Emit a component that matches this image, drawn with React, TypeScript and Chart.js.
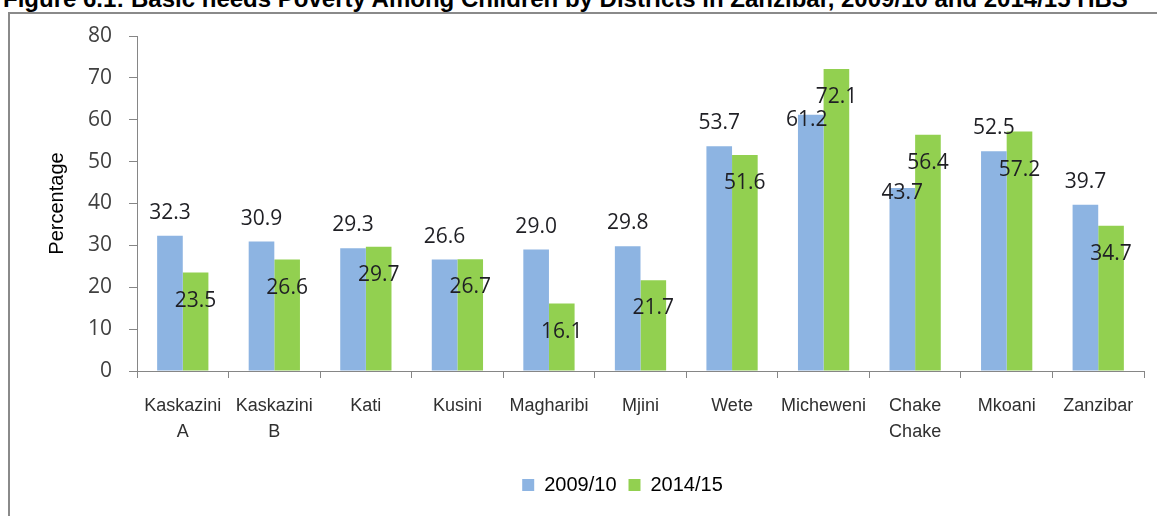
import { useEffect, useRef } from "react";
import { Chart, registerables } from "chart.js";

Chart.register(...registerables);

const categories: (string | string[])[] = [
  ["Kaskazini", "A"],
  ["Kaskazini", "B"],
  "Kati",
  "Kusini",
  "Magharibi",
  "Mjini",
  "Wete",
  "Micheweni",
  ["Chake", "Chake"],
  "Mkoani",
  "Zanzibar",
];
const series2009 = [32.3, 30.9, 29.3, 26.6, 29.0, 29.8, 53.7, 61.2, 43.7, 52.5, 39.7];
const series2014 = [23.5, 26.6, 29.7, 26.7, 16.1, 21.7, 51.6, 72.1, 56.4, 57.2, 34.7];
const seriesNames = ["2009/10", "2014/15"];
const yMin = 0;
const yMax = 80;
const yStep = 10;

const TITLE =
  "Figure 6.1: Basic needs Poverty Among Children by Districts in Zanzibar, 2009/10 and 2014/15 HBS";

// label placement style (pixel offsets from bar top), mimicking the manual Excel layout
const LABEL_STYLE = [
  { offset: -23, nudgeY: { 7: 5, 8: 5 } as Record<number, number>, nudgeX: { 7: -4 } as Record<number, number> },
  { offset: 28, nudgeY: { 9: 39 } as Record<number, number>, nudgeX: {} as Record<number, number> },
];
const LEGEND_SHIFT = -18;

const labelPlugin = {
  id: "barValueLabels",
  afterLayout(chart: any) {
    if (chart.legend) {
      chart.legend.left += LEGEND_SHIFT;
      chart.legend.right += LEGEND_SHIFT;
    }
  },
  afterDatasetsDraw(chart: any) {
    const ctx = chart.ctx;
    ctx.save();
    ctx.font = "21px 'Open Sans'";
    ctx.fillStyle = "#1f1f24";
    ctx.textAlign = "center";
    ctx.textBaseline = "middle";
    chart.data.datasets.forEach((ds: any, di: number) => {
      const meta = chart.getDatasetMeta(di);
      const st = LABEL_STYLE[di];
      meta.data.forEach((bar: any, i: number) => {
        const v = ds.data[i] as number;
        const dy = st.nudgeY[i] !== undefined ? st.nudgeY[i] : st.offset;
        const dx = st.nudgeX[i] !== undefined ? st.nudgeX[i] : 0;
        ctx.fillText(v.toFixed(1), bar.x + dx, bar.y + dy);
      });
    });
    ctx.restore();
  },
};

export default function App() {
  const ref = useRef<HTMLCanvasElement | null>(null);

  useEffect(() => {
    if (!ref.current) return;
    const axisColor = "#868686";
    const chart = new Chart(ref.current, {
      type: "bar",
      data: {
        labels: categories,
        datasets: [
          {
            label: seriesNames[0],
            data: series2009,
            backgroundColor: "#8db4e2",
            categoryPercentage: 0.56,
            barPercentage: 1.0,
          },
          {
            label: seriesNames[1],
            data: series2014,
            backgroundColor: "#92d050",
            categoryPercentage: 0.56,
            barPercentage: 1.0,
          },
        ],
      },
      options: {
        responsive: false,
        animation: false,
        layout: { padding: { left: 35, right: 13, top: 22, bottom: 11 } },
        plugins: {
          tooltip: { enabled: false },
          legend: {
            position: "bottom",
            fullSize: false,
            labels: {
              boxWidth: 12,
              boxHeight: 12,
              padding: 12,
              color: "#000",
              font: { family: "'Liberation Sans', Arial", size: 20 },
            },
          },
        },
        scales: {
          x: {
            afterFit: (s: any) => {
              s.height = 92;
            },
            grid: {
              offset: true,
              drawOnChartArea: false,
              drawTicks: true,
              tickLength: 7,
              color: axisColor,
            },
            border: { display: true, color: axisColor },
            ticks: {
              color: "#303030",
              padding: 15,
              autoSkip: false,
              maxRotation: 0,
              font: { family: "'Liberation Sans', Arial", size: 18, lineHeight: 1.45 },
            },
          },
          y: {
            min: yMin,
            max: yMax,
            afterFit: (s: any) => {
              s.width = 92;
              s.paddingTop = 0;
              s.paddingBottom = 0;
            },
            grid: {
              drawOnChartArea: false,
              drawTicks: true,
              tickLength: 8,
              color: axisColor,
            },
            border: { display: true, color: axisColor },
            ticks: {
              stepSize: yStep,
              color: "#404040",
              padding: 17,
              font: { family: "'Open Sans'", size: 21 },
            },
            title: {
              display: true,
              text: "Percentage",
              color: "#000",
              padding: 0,
              font: { family: "'Liberation Sans', Arial", size: 20, lineHeight: 1.2 },
            },
          },
        },
      },
      plugins: [labelPlugin],
    });
    return () => chart.destroy();
  }, []);

  return (
    <div
      style={{
        position: "fixed",
        left: 0,
        top: 0,
        width: 1157,
        height: 516,
        overflow: "hidden",
        background: "#fff",
      }}
    >
      <div
        style={{
          position: "absolute",
          left: 3,
          top: -13,
          whiteSpace: "nowrap",
          font: "bold 24px 'Liberation Sans', Arial, sans-serif",
          lineHeight: "24px",
          color: "#000",
        }}
      >
        {TITLE}
      </div>
      <div
        style={{
          position: "absolute",
          left: 8,
          top: 12,
          width: 1300,
          height: 700,
          border: "2px solid #8a8a8a",
          boxSizing: "border-box",
        }}
      />
      <canvas
        ref={ref}
        width={1147}
        height={502}
        style={{ position: "absolute", left: 10, top: 14, width: 1147, height: 502 }}
      />
    </div>
  );
}
